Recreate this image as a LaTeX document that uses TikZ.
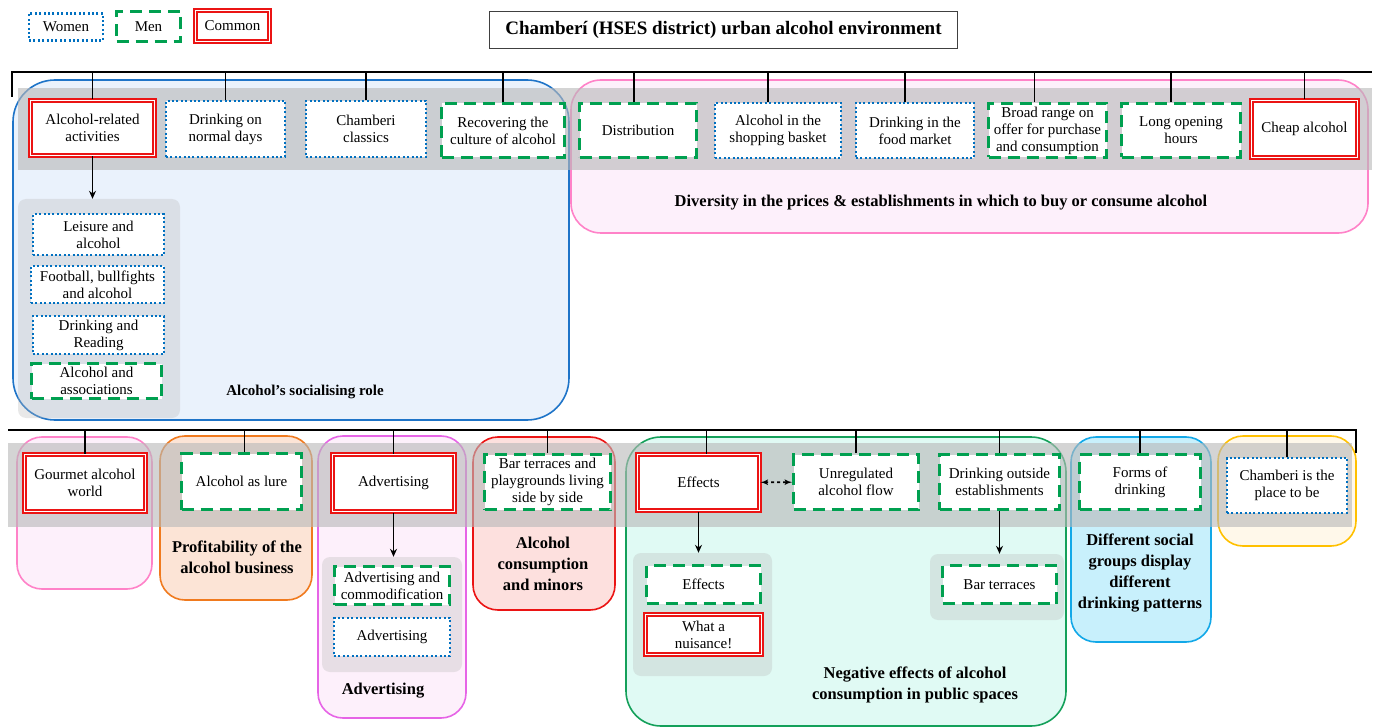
\documentclass[tikz,border=0pt]{standalone}
\usepackage{fontspec}
\setmainfont{Liberation Serif}
\usepackage{tikz}
\usetikzlibrary{arrows,arrows.meta,positioning}
\definecolor{womenblue}{RGB}{0,112,192}
\definecolor{mengreen}{RGB}{0,160,80}
\definecolor{comred}{RGB}{235,20,20}
\definecolor{bandgray}{RGB}{185,185,185}
\definecolor{socblue}{RGB}{30,116,200}
\definecolor{socfill}{RGB}{234,242,252}
\definecolor{pinkline}{RGB}{255,130,200}
\definecolor{pinkfill}{RGB}{253,240,251}
\definecolor{orline}{RGB}{240,122,30}
\definecolor{orfill}{RGB}{252,228,214}
\definecolor{violine}{RGB}{230,100,230}
\definecolor{redfill}{RGB}{253,224,222}
\definecolor{negline}{RGB}{20,160,90}
\definecolor{negfill}{RGB}{224,250,244}
\definecolor{cyanline}{RGB}{18,168,232}
\definecolor{cyanfill}{RGB}{200,240,252}
\definecolor{goldline}{RGB}{255,192,0}
\definecolor{goldfill}{RGB}{255,248,234}
\tikzset{
  women/.style = {rectangle, draw=womenblue, line width=2.2pt, dash pattern=on 2pt off 2.4pt, fill=white, align=center, inner sep=1pt},
  men/.style = {rectangle, draw=mengreen, line width=2.8pt, dash pattern=on 12pt off 7pt, fill=white, align=center, inner sep=1pt},
  common/.style = {rectangle, draw=comred, double=white, line width=2pt, double distance=1.5pt, fill=white, align=center, inner sep=1pt},
  cat/.style = {rectangle, rounded corners=30pt, line width=1.6pt, inner sep=0pt},
  band/.style = {rectangle, fill=bandgray, fill opacity=0.62, inner sep=0pt},
  panel/.style = {rectangle, rounded corners=8pt, fill=bandgray, fill opacity=0.32, inner sep=0pt},
  theme/.style = {font=\fontsize{16.5}{21}\selectfont\bfseries, align=center},
  treeline/.style = {black, line width=1.1pt},
  subarrow/.style = {black, line width=1.1pt, ->, >={Stealth[length=8pt,width=7pt]}},
  linkarrow/.style = {black, line width=1.6pt, dashed, <->, >=latex'},
}

\begin{document}
\begin{tikzpicture}[x=1pt, y=-1pt, font=\fontsize{15}{17}\selectfont]
      \useasboundingbox (0,0) rectangle (1378,727);

      % categories
      \node[cat, draw=socblue, fill=socfill, minimum width=556, minimum height=340, rounded corners=42pt] (socialGrp) at (291,250) {};
      \node[cat, draw=pinkline, fill=pinkfill, minimum width=797, minimum height=153] (priceGrp) at (969.5,156.5) {};
      \node[cat, draw=pinkline, fill=pinkfill, minimum width=135, minimum height=152, rounded corners=25pt] (gourmetGrp) at (84.5,513) {};
      \node[cat, draw=orline, fill=orfill, minimum width=152, minimum height=164, rounded corners=25pt] (profitGrp) at (236,518) {};
      \node[cat, draw=violine, fill=pinkfill, minimum width=148, minimum height=282, rounded corners=25pt] (advertGrp) at (392,577) {};
      \node[cat, draw=comred, fill=redfill, minimum width=142, minimum height=173, rounded corners=25pt] (minorsGrp) at (544,523.5) {};
      \node[cat, draw=negline, fill=negfill, minimum width=440, minimum height=289, rounded corners=35pt] (negGrp) at (846,581.5) {};
      \node[cat, draw=cyanline, fill=cyanfill, minimum width=140, minimum height=205, rounded corners=25pt] (groupsGrp) at (1141,539.5) {};
      \node[cat, draw=goldline, fill=goldfill, minimum width=138, minimum height=110, rounded corners=25pt] (placeGrp) at (1287,491) {};

      \node[band, minimum width=1354, minimum height=82] (topBand) at (695,129) {};
      \node[band, minimum width=1344, minimum height=84] (botBand) at (680,485) {};
      \node[panel, minimum width=162, minimum height=219] (actvPanel) at (99,308.5) {};
      \node[panel, minimum width=140, minimum height=115] (advPanel) at (392,614.5) {};
      \node[panel, minimum width=139, minimum height=123] (effPanel) at (702.5,614.5) {};
      \node[panel, minimum width=134, minimum height=66] (outPanel) at (997,587) {};

      % legend and title
      \node[women, minimum width=74, minimum height=27] (lgWomen) at (66,27) {Women};
      \node[men, minimum width=64, minimum height=30] (lgMen) at (148.5,26.5) {Men};
      \node[common, minimum width=74, minimum height=31] (lgCommon) at (232.5,26) {Common};
      \node[draw=black!75, line width=1.5pt, minimum width=468, minimum height=37, font=\fontsize{19}{21}\selectfont\bfseries] (title) at (723.5,30) {Chamberí (HSES district) urban alcohol environment};

      % upper row
      \node[common, minimum width=124, minimum height=55] (actv) at (92.5,128) {Alcohol-related\\activities};
      \node[women, minimum width=119, minimum height=56] (normal) at (225.5,129) {Drinking on\\normal days};
      \node[women, minimum width=120, minimum height=56] (classics) at (366,129) {Chamberi\\classics};
      \node[men, minimum width=123, minimum height=54] (recover) at (503,130.5) {Recovering the\\culture of alcohol};
      \node[men, minimum width=117, minimum height=54] (distrib) at (638,130.5) {Distribution};
      \node[women, minimum width=126, minimum height=55] (basket) at (778,130.5) {Alcohol in the\\shopping basket};
      \node[women, minimum width=118, minimum height=55] (market) at (915,130.5) {Drinking in the\\food market};
      \node[men, minimum width=118, minimum height=54] (range) at (1047.5,130.5) {Broad range on\\offer for purchase\\and consumption};
      \node[men, minimum width=119, minimum height=54] (hours) at (1181,130.5) {Long opening\\hours};
      \node[common, minimum width=106, minimum height=57] (cheap) at (1304.5,129) {Cheap alcohol};

      \node[women, minimum width=131, minimum height=41] (leisure) at (98.5,234.5) {Leisure and\\alcohol};
      \node[women, minimum width=133, minimum height=37] (football) at (97.5,284.5) {Football, bullfights\\and alcohol};
      \node[women, minimum width=131, minimum height=38] (reading) at (98.5,335) {Drinking and\\Reading};
      \node[men, minimum width=130, minimum height=35] (assoc) at (96.5,381) {Alcohol and\\associations};

      \node[theme, font=\fontsize{15}{21}\selectfont\bfseries] (socialLbl) at (305,392) {Alcohol’s socialising role};
      \node[theme] (priceLbl) at (941,203) {Diversity in the prices \& establishments in which to buy or consume alcohol};

      % lower row
      \node[common, minimum width=121, minimum height=57] (gourmet) at (85,483) {Gourmet alcohol\\world};
      \node[men, minimum width=120, minimum height=56] (lure) at (241.5,481.5) {Alcohol as lure};
      \node[common, minimum width=122, minimum height=57] (advert) at (393.5,483) {Advertising};
      \node[men, minimum width=126, minimum height=55] (terraces) at (547.5,482) {Bar terraces and\\playgrounds living\\side by side};
      \node[common, minimum width=122, minimum height=56] (effects) at (698.5,482.5) {Effects};
      \node[men, minimum width=125, minimum height=55] (unreg) at (856,482) {Unregulated\\alcohol flow};
      \node[men, minimum width=120, minimum height=55] (outside) at (999.5,482) {Drinking outside\\establishments};
      \node[men, minimum width=121, minimum height=55] (forms) at (1140,482) {Forms of\\drinking};
      \node[women, minimum width=120, minimum height=55] (place) at (1287,485.5) {Chamberi is the\\place to be};

      \node[men, minimum width=115, minimum height=38] (advComm) at (392,585.5) {Advertising and\\commodification};
      \node[women, minimum width=116, minimum height=38] (advWomen) at (392,637) {Advertising};
      \node[men, minimum width=114, minimum height=38] (effMen) at (703.5,584.5) {Effects};
      \node[common, minimum width=116, minimum height=40] (nuisance) at (703.5,634.5) {What a\\nuisance!};
      \node[men, minimum width=114, minimum height=38] (barTerr) at (999.5,584.5) {Bar terraces};

      \node[theme] (profitLbl) at (237,557) {Profitability of the\\alcohol business};
      \node[theme] (advertLbl) at (383,691) {Advertising};
      \node[theme] (minorsLbl) at (543,564) {Alcohol\\consumption\\and minors};
      \node[theme] (negLbl) at (915,685) {Negative effects of alcohol\\consumption in public spaces};
      \node[theme] (groupsLbl) at (1140,573) {Different social\\groups display\\different\\drinking patterns};

      % tree lines
      \coordinate (topL) at (12,97);
      \coordinate (topR) at (1372,72);
      \coordinate (botL) at (8,430);
      \coordinate (botR) at (1356,453);
      \draw[treeline, line width=1.8pt] (topL) |- (topR);
      \draw[treeline, line width=1.8pt] (botL) -| (botR);

      \draw[treeline] (actv.north) -- (actv.north |- topR);
      \draw[treeline] (normal.north) -- (normal.north |- topR);
      \draw[treeline] (classics.north) -- (classics.north |- topR);
      \draw[treeline] (recover.north) -- (recover.north |- topR);
      \draw[treeline] ([xshift=-4pt]distrib.north) -- ([xshift=-4pt]distrib.north |- topR);
      \draw[treeline] ([xshift=-10pt]basket.north) -- ([xshift=-10pt]basket.north |- topR);
      \draw[treeline] ([xshift=-10pt]market.north) -- ([xshift=-10pt]market.north |- topR);
      \draw[treeline] ([xshift=-13pt]range.north) -- ([xshift=-13pt]range.north |- topR);
      \draw[treeline] ([xshift=-10pt]hours.north) -- ([xshift=-10pt]hours.north |- topR);
      \draw[treeline] (cheap.north) -- (cheap.north |- topR);

      \draw[treeline] (gourmet.north) -- (gourmet.north |- botL);
      \draw[treeline] ([xshift=3pt]lure.north) -- ([xshift=3pt]lure.north |- botL);
      \draw[treeline] (advert.north) -- (advert.north |- botL);
      \draw[treeline] (terraces.north) -- (terraces.north |- botL);
      \draw[treeline] ([xshift=8pt]effects.north) -- ([xshift=8pt]effects.north |- botL);
      \draw[treeline] (unreg.north) -- (unreg.north |- botL);
      \draw[treeline] (outside.north) -- (outside.north |- botL);
      \draw[treeline] (forms.north) -- (forms.north |- botL);
      \draw[treeline] (place.north) -- (place.north |- botL);

      \draw[subarrow] (actv.south) -- (actv.south |- actvPanel.north);
      \draw[subarrow] (advert.south) -- (advert.south |- advPanel.north);
      \draw[subarrow] (effects.south) -- (effects.south |- effPanel.north);
      \draw[subarrow] (outside.south) -- (outside.south |- outPanel.north);
      \path (effects) edge[linkarrow] (unreg);
      \end{tikzpicture}
\end{document}
